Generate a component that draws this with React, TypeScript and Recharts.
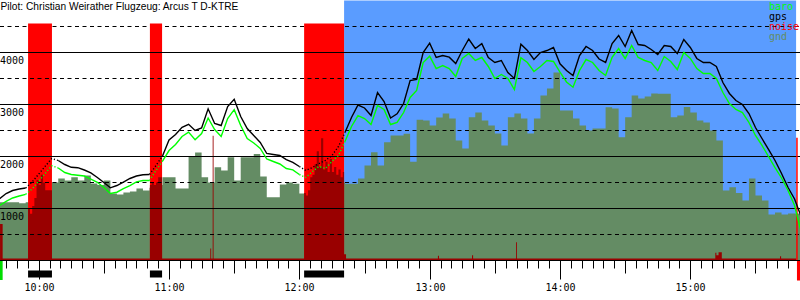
import React from 'react';
import {
  ComposedChart,
  Area,
  Line,
  XAxis,
  YAxis,
  ReferenceArea,
  ReferenceLine,
} from 'recharts';

// time grid: minutes since midnight, one sample every 3 minutes from 9:42
const START_MIN = 582;
const STEP_MIN = 3;

// altitudes in metres
const gps = [
  1190, 1288, 1346, 1375, 1394, 1510, 1662, 1813, 1961, 1923,
  1846, 1792, 1785, 1740, 1683, 1596, 1500, 1398, 1442, 1508,
  1577, 1625, 1648, 1654, 1827, 2010, 2317, 2423, 2560, 2620,
  2500, 2548, 2917, 2635, 2596, 2960, 3100, 2769, 2538, 2404,
  2269, 2058, 2038, 2019, 1942, 1885, 1808, 1731, 1788, 1865,
  1923, 2019, 2192, 2461, 2750, 2990, 2933, 2788, 3230, 3058,
  2740, 2821, 3019, 3461, 3481, 4000, 4180, 3904, 3942, 3910,
  3788, 4038, 4260, 4077, 4170, 3904, 3808, 3846, 3615, 3500,
  4160, 4038, 3865, 4000, 4038, 4096, 3782, 3654, 3558, 3942,
  4115, 4038, 3875, 3808, 4173, 4327, 4115, 4423, 4154, 4135,
  4058, 3961, 4135, 4115, 3981, 4250, 4096, 3885, 3808, 3808,
  3731, 3423, 3212, 3077, 3000, 2827, 2558, 2346, 2135, 1923,
  1673, 1404, 1183, 850,
];

const baro = [
  1058, 1135, 1202, 1240, 1273, 1377, 1525, 1673, 1823, 1779,
  1692, 1654, 1640, 1625, 1567, 1504, 1404, 1288, 1313, 1381,
  1442, 1513, 1538, 1538, 1731, 1913, 2115, 2231, 2385, 2470,
  2321, 2442, 2740, 2519, 2385, 2731, 2900, 2596, 2346, 2260,
  2154, 1952, 1904, 1856, 1769, 1744, 1654, 1596, 1711, 1808,
  1769, 1904, 2019, 2288, 2577, 2788, 2731, 2615, 2981, 2904,
  2615, 2654, 2846, 3135, 3269, 3808, 3930, 3692, 3750, 3692,
  3538, 3885, 3980, 3846, 3904, 3731, 3500, 3577, 3500, 3288,
  3900, 3808, 3635, 3731, 3846, 3827, 3621, 3433, 3333, 3654,
  3865, 3808, 3654, 3558, 3909, 4077, 3885, 4135, 3904, 3846,
  3808, 3654, 3923, 3827, 3673, 4000, 3885, 3692, 3596, 3596,
  3500, 3231, 3019, 2904, 2846, 2654, 2404, 2212, 2000, 1788,
  1587, 1346, 1058, 560,
];

const gnd = [
  1122, 1122, 1122, 1100, 1122, 1200, 1250, 1300, 1500, 1577,
  1538, 1600, 1538, 1635, 1480, 1450, 1538, 1288, 1270, 1308,
  1327, 1385, 1346, 1400, 1450, 1600, 1600, 1385, 1385, 2000,
  2077, 1600, 1500, 1794, 1730, 1987, 1538, 1987, 1987, 2050,
  1615, 1217, 1217, 1460, 1500, 1475, 1288, 1300, 1350, 1400,
  1450, 1500, 1500, 1475, 1475, 1577, 1827, 2083, 1827, 2275,
  2404, 2404, 2436, 1900, 2706, 2692, 2596, 2750, 2827, 2731,
  2308, 2154, 2756, 2846, 2692, 2596, 2442, 2212, 2756, 2827,
  2731, 2442, 2731, 3173, 3308, 3615, 2885, 2885, 2731, 2596,
  2500, 2538, 2538, 2948, 2923, 2371, 2756, 3173, 3115, 3154,
  3211, 3206, 3206, 2756, 2788, 2950, 2846, 2692, 2654, 2500,
  2308, 1346, 1410, 1300, 1154, 1577, 1250, 1154, 885, 923,
  885, 904, 904, 0,
];

// engine noise, sampled irregularly (minutes, scaled value)
const noiseTime = [
  582.2, 583.4, 595.1, 596, 597, 598, 599, 600, 601, 602, 603, 604, 605, 606.1,
  651.2, 652, 653, 654, 655, 656, 656.8, 679.0, 679.4, 680.1, 680.5,
  722.2, 723, 724, 725, 726, 727, 728, 729, 730, 731, 732, 733, 734, 735, 736,
  737, 738, 739, 740, 740.6, 741.5, 783.8, 784.3, 799.5, 800, 819.8, 820.2,
  911.5, 912, 913, 914.5, 941.3, 941.8, 948.7,
];
const noiseValue = [
  700, 40, 1000, 900, 1050, 1200, 1550, 1450, 1650, 1500, 1350, 1350, 1350, 40,
  1450, 1500, 1450, 1500, 1600, 1600, 40, 230, 40, 2400, 40,
  1300, 1250, 1350, 1600, 1650, 1850, 2100, 1800, 2350, 1750, 1900, 1700, 1950, 1700, 1800,
  1650, 1750, 1600, 1700, 120, 40, 90, 40, 100, 40, 350, 40,
  150, 100, 160, 40, 80, 40, 40,
];

// engine runs (red) and gliding phase (blue), minutes
const engineStart = [595.1, 651.2, 722.2];
const engineEnd = [606.1, 656.8, 740.6];
const glideStart = 740.6;
const glideEnd = 948.7;
const takeoffTime = 582.2;
const landingTime = 949.1;
const landingNoise = 2360;

const gridLevels = [500, 1000, 1500, 2000, 2500, 3000, 3500, 4000, 4500];
const altLabels = [1000, 2000, 3000, 4000];

const legendItems = [
  { name: 'baro', color: '#00ff00' },
  { name: 'gps', color: '#000000' },
  { name: 'noise', color: '#ff0000' },
  { name: 'gnd', color: '#648c64' },
];

const title = 'Pilot: Christian Weirather Flugzeug: Arcus T D-KTRE';

const BLUE = '#5a9cff';
const RED = '#ff0000';
const DARK_RED = '#990000';
const GND = '#648c64';
const MONO = '"DejaVu Sans Mono", monospace';

const timeTicks: number[] = [];
for (let m = 585; m <= 945; m += 5) timeTicks.push(m);

const inEngine = (t: number) => engineStart.some((s, k) => t >= s && t <= engineEnd[k]);

const times = gps.map((_, i) => START_MIN + i * STEP_MIN);

const data = times.map((t, i) => {
  const inside = inEngine(t);
  const near =
    inside || (i > 0 && inEngine(times[i - 1])) || (i < times.length - 1 && inEngine(times[i + 1]));
  return {
    t,
    gnd: gnd[i],
    gps: inside ? null : gps[i],
    baro: inside ? null : baro[i],
    gpsDot: near ? gps[i] : null,
    baroDot: near ? baro[i] : null,
  };
});

const noiseData = noiseTime.map((t, i) => ({ t, noise: noiseValue[i] }));

const TimeTick = (props: any) => {
  const { x, y, payload } = props;
  const t = payload.value as number;
  const px = Math.round(x) + 0.5;
  const len = t % 60 === 0 ? 19 : t % 30 === 0 ? 13 : 8;
  return (
    <g>
      <line x1={px} x2={px} y1={y} y2={y + len} stroke="#000" strokeWidth={1} />
      {t % 60 === 0 && (
        <text x={px} y={y + 30} textAnchor="middle" fontFamily={MONO} fontSize={10} fill="#000">
          {`${t / 60}:00`}
        </text>
      )}
    </g>
  );
};

export default function App() {
  return (
    <div style={{ position: 'absolute', left: 0, top: 0, width: 800, height: 300, background: '#fff' }}>
      <ComposedChart
        width={800}
        height={300}
        data={data}
        margin={{ top: 0.5, right: 0, bottom: 0, left: 0 }}
      >
        <XAxis
          dataKey="t"
          type="number"
          domain={[582.18, 950.5]}
          allowDataOverflow
          ticks={timeTicks}
          interval={0}
          tick={<TimeTick />}
          tickLine={false}
          tickSize={0}
          tickMargin={0}
          axisLine={{ stroke: '#000' }}
          height={39.5}
        />
        <YAxis type="number" domain={[0, 5000]} hide allowDataOverflow />

        <ReferenceArea
          x1={glideStart}
          x2={glideEnd}
          y1={0}
          y2={5000}
          fill={BLUE}
          fillOpacity={1}
          stroke="none"
          zIndex={10}
        />
        <Area
          dataKey="gnd"
          type="stepAfter"
          fill={GND}
          fillOpacity={1}
          stroke="none"
          isAnimationActive={false}
          zIndex={20}
        />
        <ReferenceLine y={4500} stroke="#000" strokeDasharray="4 3.5" zIndex={25} />
        {engineStart.map((s, k) => (
          <ReferenceArea
            key={`eng${k}`}
            x1={s}
            x2={engineEnd[k]}
            y1={0}
            y2={4560}
            fill={RED}
            fillOpacity={1}
            stroke="none"
            zIndex={30}
          />
        ))}
        <Area
          data={noiseData}
          dataKey="noise"
          type="stepAfter"
          fill={DARK_RED}
          fillOpacity={1}
          stroke="none"
          isAnimationActive={false}
          zIndex={40}
        />
        {gridLevels
          .filter((v) => v !== 4500)
          .map((v) => (
            <ReferenceLine
              key={`g${v}`}
              y={v}
              stroke="#000"
              strokeDasharray={v % 1000 === 0 ? undefined : '4 3.5'}
              zIndex={50}
              label={
                altLabels.includes(v)
                  ? (p: any) => (
                      <text x={0} y={p.viewBox.y + 11} fontFamily={MONO} fontSize={10} fill="#000">
                        {v}
                      </text>
                    )
                  : undefined
              }
            />
          ))}
        <ReferenceLine
          segment={[
            { x: landingTime, y: 0 },
            { x: landingTime, y: landingNoise },
          ]}
          stroke={RED}
          strokeWidth={1.5}
          zIndex={55}
        />
        {engineStart.map((s, k) => (
          <ReferenceArea
            key={`bar${k}`}
            x1={s}
            x2={engineEnd[k]}
            y1={-327}
            y2={-192}
            fill="#000"
            fillOpacity={1}
            stroke="none"
            ifOverflow="visible"
            zIndex={55}
          />
        ))}
        <ReferenceArea
          x1={takeoffTime - 0.2}
          x2={takeoffTime + 1.2}
          y1={-375}
          y2={-10}
          fill="#00dd00"
          fillOpacity={1}
          stroke="none"
          ifOverflow="visible"
          zIndex={55}
        />
        <ReferenceArea
          x1={landingTime}
          x2={landingTime + 1.5}
          y1={-385}
          y2={0}
          fill={RED}
          fillOpacity={1}
          stroke="none"
          ifOverflow="visible"
          zIndex={55}
        />
        <Line
          dataKey="gps"
          type="linear"
          stroke="#000"
          strokeWidth={1.4}
          dot={false}
          activeDot={false}
          isAnimationActive={false}
          zIndex={60}
        />
        <Line
          dataKey="gpsDot"
          type="linear"
          stroke="#000"
          strokeWidth={1.4}
          strokeDasharray="1.2 2"
          dot={false}
          activeDot={false}
          isAnimationActive={false}
          zIndex={60}
        />
        <Line
          dataKey="baro"
          type="linear"
          stroke="#00ff00"
          strokeWidth={1.4}
          dot={false}
          activeDot={false}
          isAnimationActive={false}
          zIndex={65}
        />
        <Line
          dataKey="baroDot"
          type="linear"
          stroke="#00ff00"
          strokeWidth={1.4}
          strokeDasharray="1.2 2"
          dot={false}
          activeDot={false}
          isAnimationActive={false}
          zIndex={65}
        />
      </ComposedChart>
      <svg
        width={800}
        height={300}
        style={{ position: 'absolute', left: 0, top: 0, pointerEvents: 'none' }}
      >
        <text x={0.5} y={10} fontFamily='"Liberation Sans", Arial, sans-serif' fontSize={10.2} fill="#000">
          {title}
        </text>
        {legendItems.map((it, k) => (
          <text key={it.name} x={769} y={10 + k * 10} fontFamily={MONO} fontSize={10} fill={it.color}>
            {it.name}
          </text>
        ))}
      </svg>
    </div>
  );
}
